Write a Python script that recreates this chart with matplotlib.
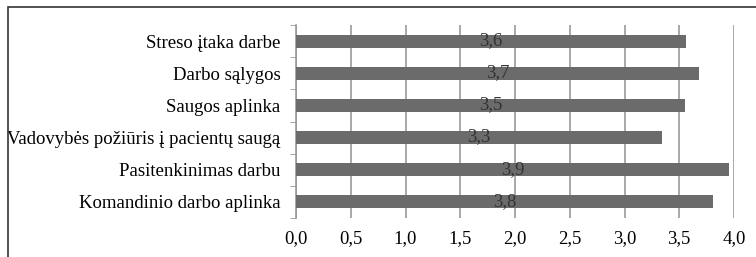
import matplotlib
matplotlib.use("Agg")
import matplotlib.pyplot as plt
from matplotlib.patches import Rectangle

categories = ["Komandinio darbo aplinka", "Pasitenkinimas darbu",
              "Vadovybės požiūris į pacientų saugą", "Saugos aplinka",
              "Darbo sąlygos", "Streso įtaka darbe"]
values = [3.81, 3.95, 3.34, 3.55, 3.68, 3.56]
labels = ["3,8", "3,9", "3,3", "3,5", "3,7", "3,6"]
xticks = [0.0, 0.5, 1.0, 1.5, 2.0, 2.5, 3.0, 3.5, 4.0]
xticklabels = ["0,0", "0,5", "1,0", "1,5", "2,0", "2,5", "3,0", "3,5", "4,0"]

plt.rcParams['font.family'] = ['Liberation Serif', 'DejaVu Serif']

W, H = 756, 257
fig = plt.figure(figsize=(W/100, H/100), dpi=100)
ax = fig.add_axes([296/W, 1-218/H, (734-296)/W, (218-25)/H])

y = list(range(len(categories)))
ax.barh(y, values, height=0.4, color="#6b6b6b", zorder=3)
for yi, v, lab in zip(y, values, labels):
    ax.text(v/2, yi+0.02, lab, ha="center", va="center", fontsize=13.5, color="#333333", zorder=4)

ax.set_xlim(0, 4.0)
ax.set_ylim(-0.5, len(categories)-0.5)
ax.set_xticks(xticks)
ax.set_xticklabels(xticklabels, fontsize=13.5)
ax.set_yticks(y)
ax.set_yticklabels(categories, fontsize=13.5)
ax.set_yticks([i - 0.5 for i in range(len(categories)+1)], minor=True)
ax.tick_params(axis="y", which="major", length=0, pad=11)
ax.tick_params(axis="y", which="minor", length=4, color="#999999", direction="out")
ax.tick_params(axis="x", length=0, pad=9)
ax.grid(axis="x", color="#999999", linewidth=1.2, zorder=0)
for s in ["top", "right", "bottom"]:
    ax.spines[s].set_visible(False)
ax.spines["left"].set_color("#999999")
ax.spines["left"].set_linewidth(1.2)

fig.patches.append(Rectangle((8/W, -0.1), 1.1, 1.1 - 7/H, transform=fig.transFigure,
                             fill=False, edgecolor="#333333", linewidth=1.2))

fig.savefig("out.png", dpi=100)
